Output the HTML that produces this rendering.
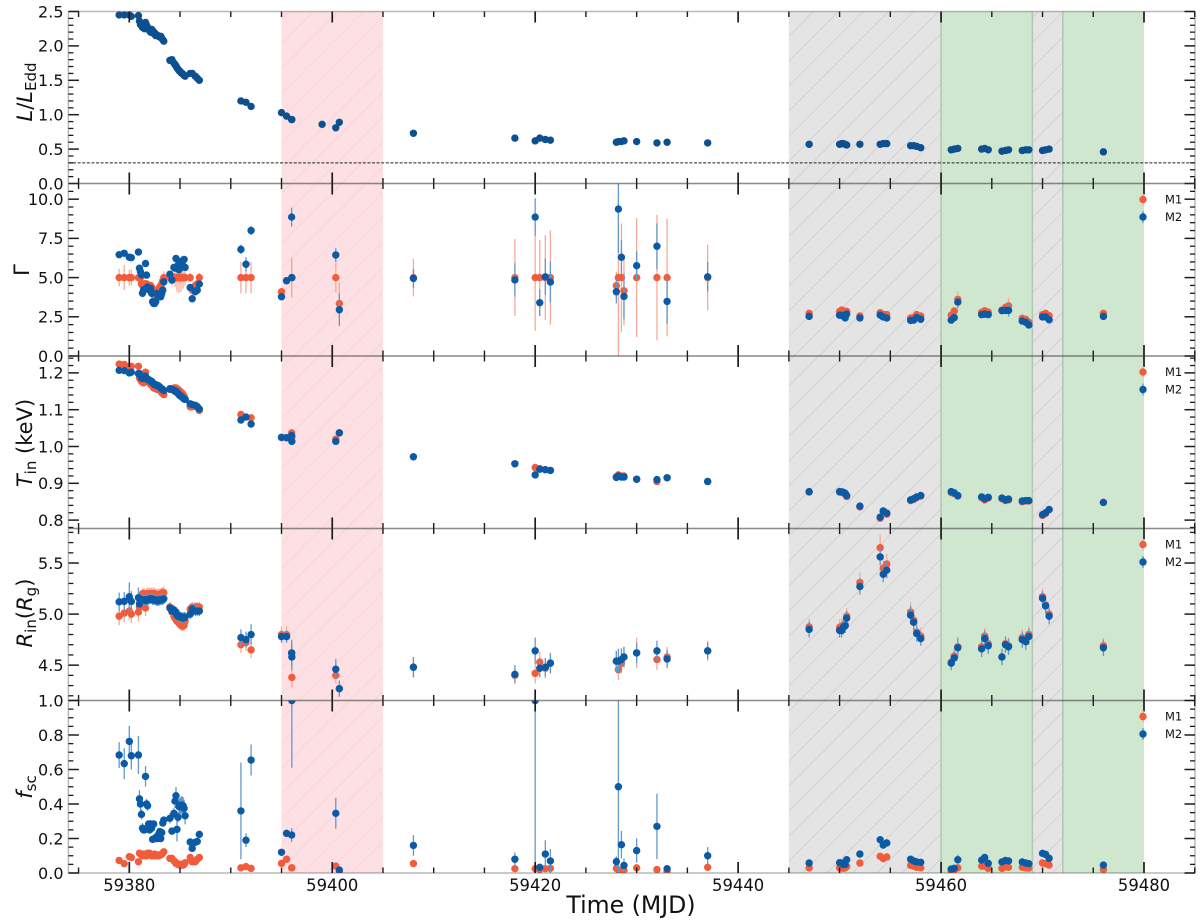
<!DOCTYPE html>
<html lang="en">
<head>
<meta charset="utf-8">
<title>Spectral parameter evolution</title>
<style>
html,body{margin:0;padding:0;background:#fff;width:1200px;height:923px;overflow:hidden}
svg{display:block;font-family:"DejaVu Sans","Liberation Sans",sans-serif}
</style>
</head>
<body>
<svg id="chart" xmlns="http://www.w3.org/2000/svg" width="1200" height="923" viewBox="0 0 1200 923">
<defs>
<pattern id="hatch-red" patternUnits="userSpaceOnUse" width="25" height="25">
<rect width="25" height="25" fill="#fde0e3"/>
<path d="M-2,2 L2,-2 M0,25 L25,0 M23,27 L27,23" stroke="#f9d5d9" stroke-width="1" fill="none"/>
</pattern>
<pattern id="hatch-gray" patternUnits="userSpaceOnUse" width="25" height="25">
<rect width="25" height="25" fill="#e4e4e4"/>
<path d="M-2,2 L2,-2 M0,25 L25,0 M23,27 L27,23" stroke="#d2d2d2" stroke-width="1" fill="none"/>
</pattern>
</defs>
<g id="spans"></g>
<g id="marks"></g>
<g id="axes"></g>
<text x="631" y="913" font-size="23.6" text-anchor="middle" fill="#111">Time (MJD)</text>
<g transform="translate(32,92) rotate(-90)">
<text text-anchor="middle" font-size="21" fill="#111"><tspan font-style="italic">L</tspan>/<tspan font-style="italic">L</tspan><tspan font-size="15" dy="4">Edd</tspan></text>
</g>
<g transform="translate(29,270) rotate(-90)">
<text text-anchor="middle" font-size="21" fill="#111">Γ</text>
</g>
<g transform="translate(32,443) rotate(-90)">
<text text-anchor="middle" font-size="21" fill="#111"><tspan font-style="italic">T</tspan><tspan font-size="15" dy="4">in</tspan><tspan dy="-4"> (keV)</tspan></text>
</g>
<g transform="translate(32,613) rotate(-90)">
<text text-anchor="middle" font-size="21" fill="#111"><tspan font-style="italic">R</tspan><tspan font-size="15" dy="4">in</tspan><tspan dy="-4">(</tspan><tspan font-style="italic">R</tspan><tspan font-size="15" dy="4">g</tspan><tspan dy="-4">)</tspan></text>
</g>
<g transform="translate(32,787) rotate(-90)">
<text text-anchor="middle" font-size="21" fill="#111"><tspan font-style="italic">f</tspan><tspan font-size="15" dy="4">sc</tspan></text>
</g>
</svg>
<script>
const time = [
59379,59379.5,59380,59380.2,59380.9,
59381,59381.1,59381.2,59381.3,59381.4,59381.5,59381.6,59381.7,59381.8,59381.9,59382,59382.1,59382.2,59382.3,59382.4,59382.5,59382.6,59382.7,59382.8,59382.9,59383,59383.1,59383.2,59383.3,59383.4,
59384,59384.2,59384.4,59384.5,59384.6,59384.7,59384.8,59384.9,59385,59385.1,59385.2,59385.3,59385.4,59385.5,
59386,59386.2,59386.5,59386.7,59386.9,
59391,59391.5,59392,
59395,59395.5,59396,59396.02,
59399,59400.35,59400.7,
59408,59418,
59420,59420.45,59421,59421.5,
59428,59428.2,59428.5,59428.75,
59430,59432,59433,59437,
59447,
59450,59450.2,59450.35,59450.55,59450.7,
59452,
59454,59454.3,59454.65,
59457,59457.3,59457.6,59458,
59461,59461.3,59461.65,59464,59464.3,59464.65,59466,59466.35,59466.65,59468,59468.35,59468.65,59470,59470.3,59470.65,59476];

const luminosity = [
2.45,2.45,2.45,2.43,2.44,
2.36,2.31,2.30,2.27,2.29,2.25,2.34,2.30,2.27,2.24,2.22,2.20,2.24,2.22,2.18,2.19,2.15,2.16,2.15,2.14,2.13,2.14,2.11,2.09,2.07,
1.79,1.80,1.75,1.73,1.71,1.68,1.66,1.64,1.63,1.61,1.60,1.59,1.57,1.56,
1.60,1.60,1.56,1.53,1.50,
1.20,1.18,1.12,
1.03,.98,.93,.93,
.86,.81,.89,
.73,.66,
.62,.66,.64,.63,
.60,.61,.61,.62,
.61,.59,.60,.59,
.57,
.57,.58,.58,.57,.56,
.57,
.57,.58,.58,
.55,.55,.54,.52,
.49,.50,.51,.50,.51,.49,.47,.48,.49,.48,.49,.49,.48,.49,.50,.46];

const gammaM1 = [
5,5,5,5,5,
5,5,4.6,4.5,4.55,4.6,4.6,4.6,4.5,4.5,4.5,4.5,4.4,4.2,3.9,3.9,3.95,4.1,4.2,4.3,4.4,4.5,4.6,4.8,5,
5,5,5,5,5,5,5,5,5,5,5,5,5,5,
5,4.2,4.5,4.6,5,
5,5,5,
4.1,4.8,5,5,
null,5,3.35,
5,5,
5,5,5,5,
4.48,5,5,4.16,
5,5,5,5,
2.72,
2.83,2.93,2.89,2.72,2.85,
2.55,
2.76,2.66,2.64,
2.42,2.46,2.64,2.55,
2.6,2.87,3.61,2.78,2.89,2.8,2.93,3.1,3.2,2.4,2.34,2.15,2.64,2.72,2.57,2.72];

const gammaM2 = [
6.46,6.55,6.3,6.27,6.63,
5.6,5.38,5.17,4,4.2,4.25,5.9,5.16,4.4,4.35,4.2,4.31,4,3.46,3.35,3.35,3.46,3.99,3.88,3.78,3.88,3.78,3.99,4.2,4.73,
5.22,4.84,5.65,5.6,6.22,5.65,5.8,5.5,6.01,5.7,5.9,6.1,6.16,5.65,
4.37,3.65,4.1,4.2,4.59,
6.8,5.85,8,
3.78,4.8,8.86,5,
null,6.44,2.95,
4.95,4.85,
8.86,3.4,5.05,4.72,
4.1,9.37,6.3,3.8,
5.76,7,3.48,5.05,
2.53,
2.6,2.6,2.55,2.43,2.67,
2.42,
2.61,2.49,2.42,
2.27,2.29,2.45,2.34,
2.29,2.45,3.44,2.64,2.67,2.64,2.89,2.91,2.91,2.23,2.15,1.98,2.49,2.49,2.31,2.53];

const gammaErrM1 = [
.55,.8,.5,.5,.5,
.4,.3,.2,.15,.15,.15,.15,.15,.15,.15,.15,.15,.15,.15,.15,.15,.15,.15,.15,.15,.15,.15,.2,.3,.4,
.3,.5,.3,.6,.3,.9,.3,1,.4,.9,.3,.7,.3,.5,
.3,.3,.3,.3,.3,
1,1,1,
.15,.2,1.25,1.25,
null,.95,1.35,
1.2,2.45,
3.4,2.4,2.7,3,
.9,5,3.45,2.2,
3.8,4,3.75,2.1,
.1,
.15,.15,.15,.15,.15,
.1,
.1,.1,.1,
.1,.1,.1,.1,
.15,.2,.5,.1,.1,.1,.1,.15,.5,.1,.1,.1,.1,.1,.1,.1];

const gammaErrM2 = [
.1,.1,.1,.1,.1,
.12,.12,.12,.12,.12,.12,.12,.12,.12,.12,.12,.12,.12,.12,.12,.12,.12,.12,.12,.12,.12,.12,.12,.12,.12,
.15,.15,.15,.15,.15,.15,.15,.15,.15,.15,.15,.15,.15,.15,
.15,.15,.15,.15,.15,
.3,.45,.3,
.1,.1,.6,.1,
null,.45,1.05,
.6,1.06,
1.2,.85,1.15,1.3,
.75,2.8,1.1,1.46,
.9,1.46,1.43,.94,
.1,
.15,.15,.15,.15,.15,
.1,
.1,.1,.1,
.1,.1,.1,.1,
.15,.15,.4,.1,.1,.1,.1,.1,.4,.1,.1,.1,.1,.1,.1,.1];

const tinM1 = [
1.224,1.223,1.218,1.218,1.218,
1.186,1.182,1.177,1.175,1.173,1.177,1.202,1.186,1.182,1.177,1.173,1.168,1.168,1.164,1.159,1.159,1.157,1.157,1.155,1.155,1.155,1.15,1.146,1.144,1.141,
1.155,1.157,1.159,1.159,1.159,1.157,1.155,1.153,1.15,1.147,1.145,1.141,1.137,1.129,
1.108,1.108,1.109,1.108,1.098,
1.087,1.08,1.078,
1.024,1.024,1.037,1.025,
null,1.02,1.037,
.972,.953,
.943,.94,.937,.935,
.918,.923,.92,.92,
.911,.905,.915,.905,
.876,
.876,.875,.874,.871,.864,
.836,
.805,.823,.816,
.853,.856,.861,.865,
.875,.872,.865,.861,.855,.86,.858,.853,.855,.85,.852,.852,.813,.818,.828,.848];

const tinM2 = [
1.207,1.206,1.2,1.202,1.198,
1.198,1.193,1.186,1.185,1.185,1.187,1.191,1.184,1.182,1.182,1.18,1.177,1.177,1.173,1.171,1.168,1.168,1.166,1.166,1.164,1.162,1.159,1.157,1.155,1.152,
1.157,1.155,1.153,1.15,1.15,1.147,1.144,1.141,1.138,1.137,1.134,1.132,1.129,1.128,
1.116,1.114,1.112,1.108,1.102,
1.072,1.08,1.061,
1.025,1.024,1.03,1.014,
null,1.014,1.037,
.972,.953,
.923,.938,.937,.935,
.916,.92,.917,.917,
.911,.91,.915,.905,
.8775,
.8775,.877,.876,.873,.867,
.838,
.808,.825,.819,
.855,.858,.863,.867,
.8775,.874,.867,.863,.858,.862,.86,.855,.857,.852,.853,.853,.815,.82,.829,.848];

const rinM1 = [
4.98,5.01,5.03,5,5.02,
5.07,5.15,5.18,5.2,5.2,5.2,5.06,5.2,5.2,5.2,5.2,5.2,5.2,5.2,5.2,5.2,5.19,5.19,5.19,5.19,5.19,5.2,5.2,5.21,5.21,
5.07,5.02,4.98,4.96,4.95,4.93,4.93,4.91,4.9,4.89,4.885,4.885,4.89,4.93,
5.05,5.07,5.07,5.07,5.07,
4.7,4.72,4.65,
4.8,4.8,4.62,4.38,
null,4.4,4.27,
4.48,4.4,
4.42,4.53,4.47,4.52,
4.54,4.455,4.52,4.58,
4.62,4.555,4.58,4.64,
4.875,
4.87,4.875,4.89,4.9,4.98,
5.31,
5.65,5.45,5.49,
5.02,4.94,4.825,4.785,
4.53,4.59,4.68,4.68,4.785,4.71,4.58,4.71,4.69,4.77,4.75,4.8,5.17,5.09,5,4.69];

const rinM2 = [
5.12,5.125,5.17,5.125,5.16,
5.1,5.13,5.14,5.14,5.14,5.14,5.13,5.14,5.14,5.14,5.15,5.15,5.15,5.14,5.14,5.14,5.14,5.13,5.13,5.13,5.14,5.14,5.14,5.14,5.15,
5.06,5.03,5.04,5.02,5.02,4.99,4.98,4.98,4.97,4.97,4.97,4.96,4.97,4.97,
5,5.05,5.03,5.03,5.03,
4.77,4.75,4.8,
4.78,4.78,4.62,4.58,
null,4.46,4.27,
4.48,4.41,
4.64,4.47,4.48,4.52,
4.54,4.54,4.555,4.58,
4.62,4.64,4.56,4.64,
4.85,
4.84,4.84,4.87,4.885,4.96,
5.27,
5.56,5.39,5.43,
4.99,4.92,4.81,4.76,
4.52,4.57,4.67,4.66,4.76,4.69,4.58,4.7,4.68,4.75,4.73,4.78,5.155,5.08,4.98,4.67];

const rinErrM1 = [
.09,.09,.09,.09,.09,
.05,.05,.05,.05,.05,.05,.08,.05,.06,.05,.06,.05,.06,.05,.06,.05,.06,.05,.06,.05,.06,.05,.06,.05,.06,
.05,.05,.05,.05,.05,.05,.05,.05,.05,.05,.05,.05,.05,.05,
.05,.05,.05,.05,.05,
.08,.08,.08,
.08,.08,.08,.1,
null,.08,.08,
.1,.08,
.1,.1,.1,.1,
.1,.1,.1,.1,
.15,.1,.1,.1,
.08,
.08,.08,.08,.08,.08,
.1,
.13,.1,.1,
.1,.08,.08,.08,
.08,.08,.08,.08,.08,.08,.08,.08,.08,.08,.08,.08,.08,.08,.08,.08];

const rinErrM2 = [
.09,.09,.14,.1,.1,
.05,.05,.05,.05,.05,.05,.05,.05,.05,.05,.05,.05,.05,.05,.05,.05,.05,.05,.05,.05,.05,.05,.05,.05,.05,
.05,.05,.05,.05,.05,.05,.05,.05,.05,.05,.05,.05,.05,.05,
.05,.05,.05,.05,.05,
.08,.08,.1,
.06,.06,.13,.13,
null,.1,.08,
.1,.09,
.13,.09,.09,.1,
.1,.12,.11,.1,
.1,.1,.09,.08,
.08,
.07,.07,.07,.07,.07,
.08,
.08,.08,.08,
.09,.08,.08,.07,
.07,.07,.1,.08,.08,.08,.08,.08,.08,.08,.08,.08,.07,.07,.08,.08];

const fscM1 = [
.073,.054,.095,.09,.065,
.115,.11,.105,.1,.11,.105,.1,.1,.115,.11,.115,.11,.1,.1,.1,.11,.105,.1,.105,.1,.105,.105,.11,.115,.123,
.085,.085,.07,.065,.056,.055,.05,.05,.046,.05,.046,.046,.05,.06,
.09,.065,.065,.08,.09,
.03,.037,.027,
.056,.08,.03,.03,
null,.04,.01,
.055,.025,
.025,.02,.025,.027,
.027,.017,.017,.017,
.03,.02,.01,.033,
.03,
.03,.03,.027,.03,.037,
.058,
.097,.083,.093,
.044,.04,.033,.03,
.01,.017,.03,.04,.04,.027,.027,.035,.033,.033,.03,.029,.058,.054,.046,.02];

const fscM2 = [
.684,.634,.763,.68,.684,
.43,.4,.34,.26,.25,.25,.56,.4,.39,.284,.25,.284,.26,.195,.284,.2,.2,.21,.2,.225,.24,.2,.234,.29,.307,
.317,.243,.346,.417,.448,.253,.323,.385,.385,.394,.394,.39,.375,.332,
.18,.143,.178,.183,.224,
.36,.19,.655,
.12,.23,.22,1,
null,.346,.017,
.16,.08,
1,.033,.11,.07,
.066,.5,.164,.044,
.13,.27,.025,.1,
.058,
.06,.058,.05,.05,.077,
.11,
.193,.162,.174,
.08,.07,.064,.062,
.023,.027,.077,.075,.09,.056,.064,.073,.07,.064,.058,.054,.114,.108,.085,.046];

const fscErrM2 = [
.075,.09,.09,.08,.11,
.05,.04,.03,.03,.02,.02,.06,.03,.03,.02,.02,.02,.02,.02,.02,.02,.02,.02,.02,.02,.02,.02,.02,.02,.02,
.03,.02,.03,.04,.05,.07,.03,.05,.05,.05,.05,.05,.05,.05,
.015,.015,.015,.015,.015,
.28,.04,.09,
.02,.02,.04,.39,
null,.09,.01,
.06,.04,
.97,.01,.08,.07,
.03,.5,.08,.04,
.07,.19,.01,.05,
.01,
.01,.01,.01,.01,.01,
.01,
.01,.01,.01,
.01,.01,.01,.01,
.01,.01,.03,.01,.01,.01,.01,.01,.01,.01,.01,.01,.01,.01,.01,.01];

const tinErr = 0.005;
const criticalLuminosity = 0.3;

const xMajorTicks = [59380,59400,59420,59440,59460,59480];
const xMinorTicks = [59375,59385,59390,59395,59405,59410,59415,59425,59430,59435,59445,59450,59455,59465,59470,59475,59485];
const xTickLabels = ['59380','59400','59420','59440','59460','59480'];

const lumMajor = [0,0.5,1,1.5,2,2.5];
const lumLabels = ['0.0','0.5','1.0','1.5','2.0','2.5'];
const lumMinor = [0.1,0.2,0.3,0.4,0.6,0.7,0.8,0.9,1.1,1.2,1.3,1.4,1.6,1.7,1.8,1.9,2.1,2.2,2.3,2.4];
const gammaMajor = [0,2.5,5,7.5,10];
const gammaLabels = ['0.0','2.5','5.0','7.5','10.0'];
const gammaMinor = [0.5,1,1.5,2,3,3.5,4,4.5,5.5,6,6.5,7,8,8.5,9,9.5,10.5];
const tinMajor = [0.8,0.9,1,1.1,1.2];
const tinLabels = ['0.8','0.9','1.0','1.1','1.2'];
const tinMinor = [0.78,0.82,0.84,0.86,0.88,0.92,0.94,0.96,0.98,1.02,1.04,1.06,1.08,1.12,1.14,1.16,1.18,1.22,1.24];
const rinMajor = [4.5,5,5.5];
const rinLabels = ['4.5','5.0','5.5'];
const rinMinor = [4.2,4.3,4.4,4.6,4.7,4.8,4.9,5.1,5.2,5.3,5.4,5.6,5.7,5.8];
const fscMajor = [0,0.2,0.4,0.6,0.8,1];
const fscLabels = ['0.0','0.2','0.4','0.6','0.8','1.0'];
const fscMinor = [0.05,0.1,0.15,0.25,0.3,0.35,0.45,0.5,0.55,0.65,0.7,0.75,0.85,0.9,0.95];

const spanStarts = [59395,59445,59460,59469,59472];
const spanEnds = [59405,59460,59469,59472,59480];
const spanKinds = ['red','gray','green','gray','green'];

const ORANGE = '#f15c3c', BLUE = '#0b5aa5', DARKBLUE = '#0d4f8f';
const ERR_ORANGE = '#f6ab98', ERR_BLUE = '#6398cc';
const NS = 'http://www.w3.org/2000/svg';
const X0 = 68.4, X1 = 1195;
const xs = t => 129.3 + (t - 59380) * 10.147;

const panels = [
 {key:'luminosity', top:11.5, bottom:183.5, v0:0, v1:2.5, major:lumMajor, labels:lumLabels, minor:lumMinor, legend:false},
 {key:'gamma', top:183.5, bottom:356, v0:0, v1:11, major:gammaMajor, labels:gammaLabels, minor:gammaMinor, legend:true},
 {key:'tin', top:356, bottom:528.5, v0:0.7772, v1:1.2459, major:tinMajor, labels:tinLabels, minor:tinMinor, legend:true},
 {key:'rin', top:528.5, bottom:700.5, v0:4.154, v1:5.838, major:rinMajor, labels:rinLabels, minor:rinMinor, legend:true},
 {key:'fsc', top:700.5, bottom:873, v0:0, v1:1, major:fscMajor, labels:fscLabels, minor:fscMinor, legend:true}
];
function yScale(p){ return v => p.bottom - (v - p.v0) / (p.v1 - p.v0) * (p.bottom - p.top); }

const spansG = document.getElementById('spans');
const marksG = document.getElementById('marks');
const axesG = document.getElementById('axes');
const defs = document.querySelector('defs');

/* shaded state bands */
spanStarts.forEach((s, i) => {
  const r = document.createElementNS(NS, 'rect');
  r.setAttribute('x', xs(s));
  r.setAttribute('y', 11.5);
  r.setAttribute('width', xs(spanEnds[i]) - xs(s));
  r.setAttribute('height', 861.5);
  const k = spanKinds[i];
  r.setAttribute('fill', k === 'red' ? 'url(#hatch-red)' : k === 'gray' ? 'url(#hatch-gray)' : '#cfe6cf');
  
  
  spansG.appendChild(r);
});
[59460,59469,59472].forEach(t => {
  const l = document.createElementNS(NS, 'line');
  l.setAttribute('x1', xs(t)); l.setAttribute('x2', xs(t));
  l.setAttribute('y1', 11.5); l.setAttribute('y2', 873);
  l.setAttribute('stroke', '#b4c7b4'); l.setAttribute('stroke-width', 1.6);
  
  
  spansG.appendChild(l);
});

function errBar(g, x, y0, y1, color){
  const l = document.createElementNS(NS, 'line');
  l.setAttribute('x1', x); l.setAttribute('x2', x);
  l.setAttribute('y1', y0); l.setAttribute('y2', y1);
  l.setAttribute('stroke', color); l.setAttribute('stroke-width', 1.3);
  
  
  g.appendChild(l);
}
function dot(g, x, y, color, name){
  const c = document.createElementNS(NS, 'circle');
  c.setAttribute('cx', x); c.setAttribute('cy', y); c.setAttribute('r', 3.7);
  c.setAttribute('fill', color);
  
  
  g.appendChild(c);
}
function drawSeries(p, values, errs, color, errColor, name){
  const ys = yScale(p);
  const cpId = 'clip-' + p.key;
  const g = document.createElementNS(NS, 'g');
  g.setAttribute('clip-path', 'url(#' + cpId + ')');
  
  
  marksG.appendChild(g);
  values.forEach((v, i) => {
    if (v === null) return;
    const e = Array.isArray(errs) ? errs[i] : errs;
    if (e) errBar(g, xs(time[i]), ys(v - e), ys(v + e), errColor);
  });
  values.forEach((v, i) => {
    if (v === null) return;
    dot(g, xs(time[i]), ys(v), color, p.key + '-point-' + name);
  });
}

panels.forEach(p => {
  const cp = document.createElementNS(NS, 'clipPath');
  cp.setAttribute('id', 'clip-' + p.key);
  const r = document.createElementNS(NS, 'rect');
  r.setAttribute('x', X0); r.setAttribute('y', p.top);
  r.setAttribute('width', X1 - X0); r.setAttribute('height', p.bottom - p.top);
  cp.appendChild(r);
  defs.appendChild(cp);
});

drawSeries(panels[0], luminosity, 0, DARKBLUE, ERR_BLUE, 'luminosity');
drawSeries(panels[1], gammaM1, gammaErrM1, ORANGE, ERR_ORANGE, 'm1');
drawSeries(panels[1], gammaM2, gammaErrM2, BLUE, ERR_BLUE, 'm2');
drawSeries(panels[2], tinM1, tinErr, ORANGE, ERR_ORANGE, 'm1');
drawSeries(panels[2], tinM2, tinErr, BLUE, ERR_BLUE, 'm2');
drawSeries(panels[3], rinM1, rinErrM1, ORANGE, ERR_ORANGE, 'm1');
drawSeries(panels[3], rinM2, rinErrM2, BLUE, ERR_BLUE, 'm2');
drawSeries(panels[4], fscM1, 0, ORANGE, ERR_ORANGE, 'm1');
drawSeries(panels[4], fscM2, fscErrM2, BLUE, ERR_BLUE, 'm2');

/* critical luminosity dashed line */
{
  const ys = yScale(panels[0]);
  const l = document.createElementNS(NS, 'line');
  l.setAttribute('x1', X0); l.setAttribute('x2', X1);
  l.setAttribute('y1', ys(criticalLuminosity)); l.setAttribute('y2', ys(criticalLuminosity));
  l.setAttribute('stroke', '#222'); l.setAttribute('stroke-width', 1);
  l.setAttribute('stroke-dasharray', '3 1.6');
  
  
  axesG.appendChild(l);
}

function seg(x1, y1, x2, y2, color, w, name){
  const l = document.createElementNS(NS, 'line');
  l.setAttribute('x1', x1); l.setAttribute('y1', y1);
  l.setAttribute('x2', x2); l.setAttribute('y2', y2);
  l.setAttribute('stroke', color); l.setAttribute('stroke-width', w);
  
  
  axesG.appendChild(l);
}
function label(x, y, str, size, anchor, name){
  const t = document.createElementNS(NS, 'text');
  t.setAttribute('x', x); t.setAttribute('y', y);
  t.setAttribute('font-size', size);
  t.setAttribute('text-anchor', anchor);
  t.setAttribute('fill', '#111');
  
  
  t.textContent = str;
  axesG.appendChild(t);
}

const SPINE = 'rgba(70,70,70,0.38)', TICK = '#1c1c1c';
panels.forEach((p, pi) => {
  const ys = yScale(p);
  /* frame */
  seg(X0, p.top, X1, p.top, SPINE, 1.5, 'panel-spine-top');
  seg(X0, p.bottom, X1, p.bottom, SPINE, 1.5, 'panel-spine-bottom');
  seg(X0, p.top, X0, p.bottom, SPINE, 1.5, 'panel-spine-left');
  seg(X1, p.top, X1, p.bottom, SPINE, 1.5, 'panel-spine-right');
  /* x ticks, inward at both edges */
  xMajorTicks.forEach(t => {
    seg(xs(t), p.top, xs(t), p.top + 11, TICK, 1.7, 'x-major-tick');
    seg(xs(t), p.bottom, xs(t), p.bottom - 11, TICK, 1.7, 'x-major-tick');
  });
  xMinorTicks.forEach(t => {
    seg(xs(t), p.top, xs(t), p.top + 5.5, TICK, 1.4, 'x-minor-tick');
    seg(xs(t), p.bottom, xs(t), p.bottom - 5.5, TICK, 1.4, 'x-minor-tick');
  });
  /* y ticks, inward at both edges */
  p.major.forEach((v, i) => {
    const y = ys(v);
    seg(X0, y, X0 + 10.5, y, TICK, 1.5, 'y-major-tick');
    seg(X1, y, X1 - 10.5, y, TICK, 1.5, 'y-major-tick');
    label(63.5, y + 5.8, p.labels[i], 16, 'end', 'y-tick-label-' + p.key);
  });
  p.minor.forEach(v => {
    if (v <= p.v0 || v >= p.v1) return;
    const y = ys(v);
    seg(X0, y, X0 + 5, y, TICK, 1.3, 'y-minor-tick');
    seg(X1, y, X1 - 5, y, TICK, 1.3, 'y-minor-tick');
  });
  /* legend */
  if (p.legend) {
    const ym1 = p.top + 16, ym2 = p.top + 33.5;
    errBar(axesG, 1143, ym1 - 6, ym1 + 6, ERR_ORANGE);
    dot(axesG, 1143, ym1, ORANGE, 'legend-marker-m1');
    label(1165, ym1 + 4.2, 'M1', 11.5, 'start', 'legend-label-m1');
    errBar(axesG, 1143, ym2 - 6, ym2 + 6, ERR_BLUE);
    dot(axesG, 1143, ym2, BLUE, 'legend-marker-m2');
    label(1165, ym2 + 4.2, 'M2', 11.5, 'start', 'legend-label-m2');
  }
});
xMajorTicks.forEach((t, i) => label(xs(t), 891, xTickLabels[i], 16.4, 'middle', 'x-tick-label'));
</script>
</body>
</html>
